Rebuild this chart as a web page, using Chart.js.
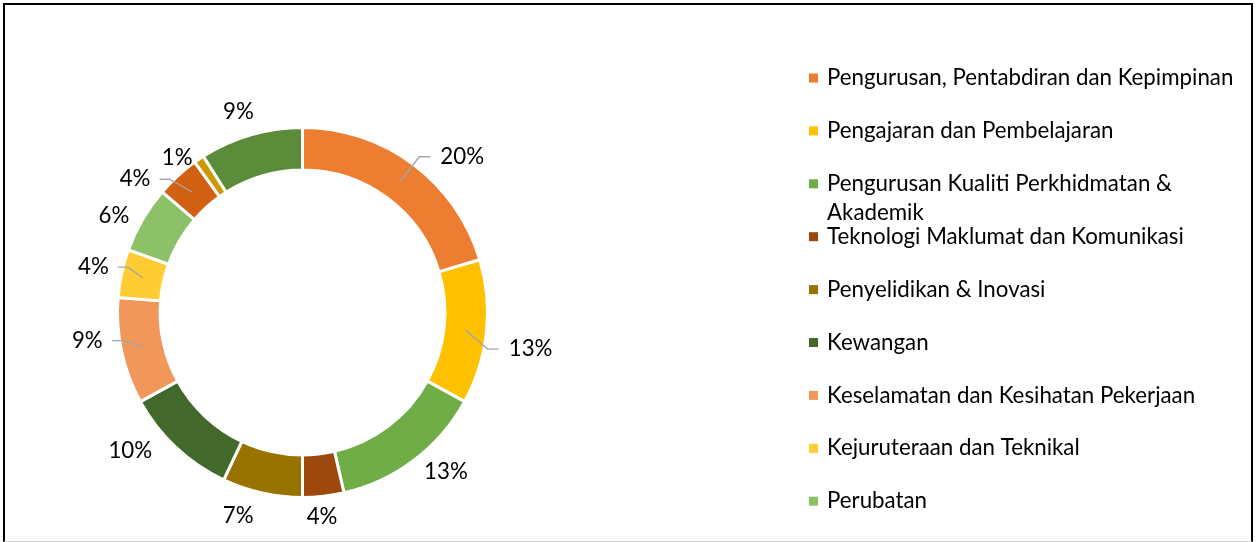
<!DOCTYPE html>
<html>
<head>
<meta charset="utf-8">
<script src="https://cdn.jsdelivr.net/npm/chart.js@4.4.0/dist/chart.umd.min.js"></script>
<style>
  body { margin: 0; background: #fff; }
  #wrap { position: relative; width: 1256px; height: 542px; }
  #frame {
    position: absolute; left: 3px; top: 3px; width: 1246px; height: 536px;
    border: 2px solid #000; border-bottom: 1px solid #d0d0d0; pointer-events: none;
  }
  canvas { position: absolute; left: 0; top: 0; }
</style>
</head>
<body>
<div id="wrap">
  <canvas id="chart" width="1256" height="542"></canvas>
  <div id="frame"></div>
</div>
<script>
// kategori (3 terakhir tidak kelihatan dalam legenda asal)
const categories = [
  "Pengurusan, Pentabdiran dan Kepimpinan",
  "Pengajaran dan Pembelajaran",
  "Pengurusan Kualiti Perkhidmatan & Akademik",
  "Teknologi Maklumat dan Komunikasi",
  "Penyelidikan & Inovasi",
  "Kewangan",
  "Keselamatan dan Kesihatan Pekerjaan",
  "Kejuruteraan dan Teknikal",
  "Perubatan",
  "Kategori 10",
  "Kategori 11",
  "Kategori 12",
];
const values = [20.4, 12.6, 13.4, 3.6, 7.0, 10.0, 9.3, 4.2, 5.8, 3.8, 0.9, 9.0];

const colors = [
  "#ED7D31", "#FFC000", "#70AD47", "#9E480E", "#997300", "#43682B",
  "#F1975A", "#FFCD33", "#8CC168", "#D26012", "#CC9A06", "#5B8C3A",
];
const legendCount = 9;

// label placement: angle nudge (deg) and distance from centre, leader lines
const labelShift = [9, 3, -5, 1, 5, 8, 4.6, 0, -3, -9, -5, -1.5];
const labelDist = [223, 231, 214, 205, 213, 221, 217, 214, 212, 214, 199, 211];
const withLeader = [true, true, false, false, false, false, true, true, false, true, false, false];

const FONT = "Lato, 'Open Sans', sans-serif";
const FONT_SIZE = 22.3;

const total = values.reduce((s, v) => s + v, 0);

const labelPlugin = {
  id: "pctLabels",
  afterDatasetsDraw(chart) {
    const ctx = chart.ctx;
    const meta = chart.getDatasetMeta(0);
    ctx.save();
    ctx.font = FONT_SIZE + "px " + FONT;
    ctx.textBaseline = "middle";
    ctx.textAlign = "center";
    meta.data.forEach((arc, i) => {
      const p = arc.getProps(["x", "y", "startAngle", "endAngle", "innerRadius", "outerRadius"], true);
      const mid = (p.startAngle + p.endAngle) / 2;
      const a = mid + (labelShift[i] * Math.PI) / 180;
      const lx = p.x + Math.cos(a) * labelDist[i];
      const ly = p.y + Math.sin(a) * labelDist[i];
      const text = Math.round((values[i] / total) * 100) + "%";
      const w = ctx.measureText(text).width;

      if (withLeader[i]) {
        const rm = (p.innerRadius + p.outerRadius) / 2;
        const sx = p.x + Math.cos(mid) * rm;
        const sy = p.y + Math.sin(mid) * rm;
        const right = lx > p.x;
        const ex = right ? lx - w / 2 - 10 : lx + w / 2 + 9;
        const bx = right ? ex - 11 : ex + 10;
        ctx.strokeStyle = "#A6A6A6";
        ctx.lineWidth = 1.4;
        ctx.beginPath();
        ctx.moveTo(sx, sy);
        ctx.lineTo(bx, ly);
        ctx.lineTo(ex, ly);
        ctx.stroke();
      }
      ctx.fillStyle = "#000";
      ctx.fillText(text, lx, ly);
    });
    ctx.restore();
  },
};

const legendPlugin = {
  id: "sideLegend",
  afterDraw(chart) {
    const ctx = chart.ctx;
    ctx.save();
    ctx.font = FONT_SIZE + "px " + FONT;
    ctx.textBaseline = "middle";
    ctx.textAlign = "left";
    for (let i = 0; i < legendCount; i++) {
      const y = 78 + 52.9 * i;
      ctx.fillStyle = colors[i];
      ctx.fillRect(809, y - 4.5, 9, 9);
      ctx.fillStyle = "#000";
      // simple word wrap
      const words = categories[i].split(" ");
      let line = "";
      let ly = y;
      words.forEach((wd) => {
        const test = line ? line + " " + wd : wd;
        if (ctx.measureText(test).width > 415 && line) {
          ctx.fillText(line, 827, ly);
          line = wd;
          ly += 29;
        } else {
          line = test;
        }
      });
      ctx.fillText(line, 827, ly);
    }
    ctx.restore();
  },
};

new Chart(document.getElementById("chart").getContext("2d"), {
  type: "doughnut",
  data: {
    labels: categories,
    datasets: [
      {
        data: values,
        backgroundColor: colors,
        borderColor: "#fff",
        borderWidth: 3,
        hoverOffset: 0,
      },
    ],
  },
  options: {
    responsive: false,
    animation: false,
    cutout: "77%",
    layout: { padding: { left: 116, right: 767, top: 126, bottom: 43 } },
    plugins: {
      legend: { display: false },
      tooltip: { enabled: false },
    },
  },
  plugins: [labelPlugin, legendPlugin],
});
</script>
</body>
</html>
